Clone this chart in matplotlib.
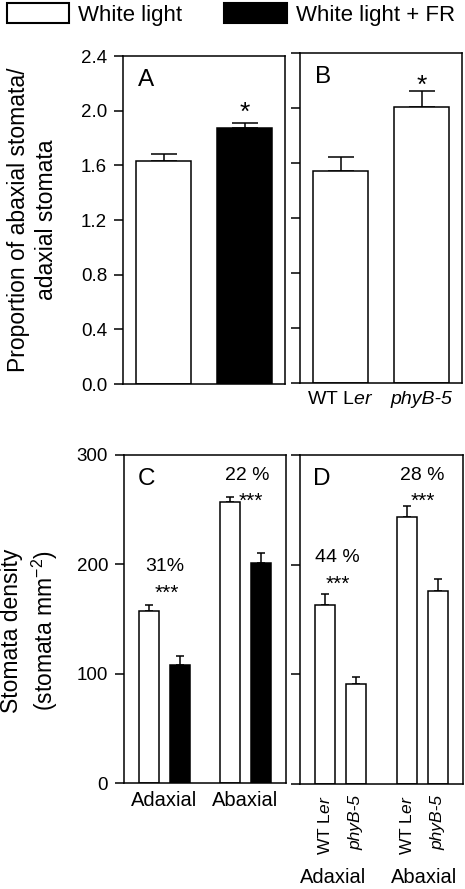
import numpy as np
import matplotlib
matplotlib.use("Agg")
import matplotlib.pyplot as plt
from matplotlib.patches import Patch

plt.rcParams["font.family"] = ["Liberation Sans", "DejaVu Sans"]
plt.rcParams["mathtext.fontset"] = "custom"
plt.rcParams["mathtext.rm"] = "Liberation Sans"
plt.rcParams["mathtext.it"] = "Liberation Sans:italic"

# A: ratio abaxial/adaxial, white light vs white light + FR
ratio_light = [1.63, 1.87]
ratio_light_err = [0.05, 0.04]

# B: ratio for genotypes
genotypes = ["WT L$\\mathit{er}$", "phyB-5"]
ratio_geno = [1.54, 2.005]
ratio_geno_err = [0.10, 0.12]

# C: stomata density per leaf side under light treatments
sides = ["Adaxial", "Abaxial"]
density_wl = [157.6, 257.4]
density_wl_err = [5.5, 4.5]
density_fr = [108.2, 201.0]
density_fr_err = [8.0, 9.0]
pct_light = ["31%", "22 %"]

# D: stomata density per leaf side for genotypes
density_wt = [163.5, 243.6]
density_wt_err = [9.5, 10.0]
density_phyb = [91.5, 176.0]
density_phyb_err = [6.0, 11.0]
pct_geno = ["44 %", "28 %"]

LW = 1.1


def style_axes(ax, ylim, yticks, fmt, show_labels):
    ax.set_xlim(-0.5, 1.5)
    ax.set_ylim(*ylim)
    ax.set_yticks(yticks)
    if show_labels:
        ax.set_yticklabels([fmt.format(v) for v in yticks])
    else:
        ax.set_yticklabels([])
    ax.tick_params(axis="y", direction="out", length=6.5, width=LW, pad=5, labelsize=13.5)
    ax.tick_params(axis="x", length=0)
    for s in ax.spines.values():
        s.set_linewidth(LW)
    ax.set_xticks([])


def draw_bars(ax, x, vals, errs, width, color, capsize):
    ax.bar(x, vals, width, color=color, edgecolor="black", linewidth=LW, zorder=2)
    ax.errorbar(x, vals, yerr=[np.zeros(len(vals)), errs], fmt="none", ecolor="black",
                elinewidth=LW, capsize=capsize, capthick=LW, zorder=1.5)


def main():
    fig = plt.figure(figsize=(4.65, 8.89), dpi=100)
    axA = fig.add_axes([123 / 465, 505 / 889, 162 / 465, 328 / 889])
    axB = fig.add_axes([300 / 465, 506 / 889, 162 / 465, 330 / 889])
    axC = fig.add_axes([124 / 465, 106 / 889, 162 / 465, 328 / 889])
    axD = fig.add_axes([300 / 465, 105 / 889, 163 / 465, 329 / 889])

    ratio_ticks = np.arange(0, 2.41, 0.4)
    dens_ticks = [0, 100, 200, 300]

    # A
    style_axes(axA, (0, 2.4), ratio_ticks, "{:.1f}", True)
    draw_bars(axA, [0], ratio_light[:1], ratio_light_err[:1], 0.667, "white", 9.7)
    draw_bars(axA, [1], ratio_light[1:], ratio_light_err[1:], 0.667, "black", 9.7)
    axA.text(1, 1.936, "*", ha="center", va="baseline", fontsize=19)
    axA.text(0.09, 0.96, "A", transform=axA.transAxes, ha="left", va="top", fontsize=17.5)
    axA.set_ylabel("Proportion of abaxial stomata/\nadaxial stomata", fontsize=16.5, linespacing=1.3)
    axA.yaxis.set_label_coords(-0.40, 0.5)

    # B
    style_axes(axB, (0, 2.4), ratio_ticks, "{:.1f}", False)
    draw_bars(axB, [0, 1], ratio_geno, ratio_geno_err, 0.667, "white", 9.7)
    axB.set_xticks([0, 1])
    axB.set_xticklabels(genotypes, fontsize=14)
    axB.get_xticklabels()[1].set_fontstyle("italic")
    axB.tick_params(axis="x", length=0, pad=5.5)
    axB.text(1, 2.107, "*", ha="center", va="baseline", fontsize=19)
    axB.text(0.093, 0.96, "B", transform=axB.transAxes, ha="left", va="top", fontsize=17.5)

    # C
    style_axes(axC, (0, 300), dens_ticks, "{:d}", True)
    xg = np.arange(2)
    draw_bars(axC, xg - 0.19, density_wl, density_wl_err, 0.25, "white", 3.2)
    draw_bars(axC, xg + 0.19, density_fr, density_fr_err, 0.25, "black", 3.2)
    axC.set_xticks([0, 1])
    axC.set_xticklabels(sides, fontsize=14.5)
    axC.tick_params(axis="x", length=0, pad=6)
    axC.text(0.0, 194, pct_light[0], ha="center", va="baseline", fontsize=14)
    axC.text(0.03, 168, "***", ha="center", va="baseline", fontsize=15)
    axC.text(1.02, 277, pct_light[1], ha="center", va="baseline", fontsize=14)
    axC.text(1.06, 253, "***", ha="center", va="baseline", fontsize=15)
    axC.text(0.086, 0.96, "C", transform=axC.transAxes, ha="left", va="top", fontsize=17.5)
    axC.set_ylabel("Stomata density\n(stomata mm$^{-2}$)", fontsize=16.5, linespacing=1.3)
    axC.yaxis.set_label_coords(-0.395, 0.463)

    # D
    style_axes(axD, (0, 300), dens_ticks, "{:d}", False)
    draw_bars(axD, xg - 0.19, density_wt, density_wt_err, 0.25, "white", 3.2)
    draw_bars(axD, xg + 0.19, density_phyb, density_phyb_err, 0.25, "white", 3.2)
    axD.set_xticks([-0.19, 0.19, 0.81, 1.19])
    axD.set_xticklabels(genotypes * 2, fontsize=12.5, rotation=90)
    for i in (1, 3):
        axD.get_xticklabels()[i].set_fontstyle("italic")
    axD.tick_params(axis="x", length=0, pad=8)
    for gx, side in zip([-0.095, 1.027], sides):
        axD.text(gx, -0.283, side, transform=axD.get_xaxis_transform(),
                 ha="center", va="center", fontsize=14.5)
    axD.text(-0.046, 202, pct_geno[0], ha="center", va="baseline", fontsize=14)
    axD.text(-0.03, 177.5, "***", ha="center", va="baseline", fontsize=15)
    axD.text(0.997, 277, pct_geno[1], ha="center", va="baseline", fontsize=14)
    axD.text(1.01, 252.5, "***", ha="center", va="baseline", fontsize=15)
    axD.text(0.08, 0.96, "D", transform=axD.transAxes, ha="left", va="top", fontsize=17.5)

    # legend across the top
    handles = [Patch(facecolor="white", edgecolor="black", linewidth=1.5, label="White light"),
               Patch(facecolor="black", edgecolor="black", linewidth=1.5, label="White light + FR")]
    fig.legend(handles=handles, loc="upper left", bbox_to_anchor=(7 / 465, 1 - 3 / 889),
               ncol=2, frameon=False, fontsize=16, handlelength=2.8, handleheight=1.0,
               handletextpad=0.4, columnspacing=1.9, borderpad=0, borderaxespad=0)

    fig.savefig("out.png", dpi=100)


if __name__ == "__main__":
    main()
